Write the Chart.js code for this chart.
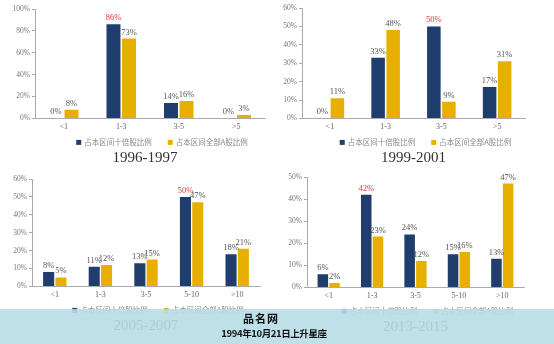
<!DOCTYPE html>
<html>
<head>
<meta charset="utf-8">
<script src="https://cdn.jsdelivr.net/npm/chart.js@4.4.0/dist/chart.umd.min.js"></script>
<style>
  html, body { margin: 0; padding: 0; background: #fff; }
  #wrap { position: relative; width: 554px; height: 344px; overflow: hidden; }
  .panel { position: absolute; }
  #band {
    position: absolute; left: 0; top: 309px; width: 554px; height: 35px;
    background: rgba(184, 219, 231, 0.9);
    font-family: "Noto Sans CJK SC", sans-serif; font-weight: bold; color: #111;
    text-align: center;
  }
  #band .l1 { position: absolute; left: 0; width: 522px; top: 1px; font-size: 11px; letter-spacing: 1px; }
  #band .l2 { position: absolute; left: 0; width: 548px; top: 17px; font-size: 9.5px; letter-spacing: -0.4px; }
</style>
</head>
<body>
<div id="wrap">
  <div class="panel" style="left:0;top:0;width:277px;height:167px"><canvas id="c1"></canvas></div>
  <div class="panel" style="left:277px;top:0;width:277px;height:167px"><canvas id="c2"></canvas></div>
  <div class="panel" style="left:0;top:168px;width:277px;height:167px"><canvas id="c3"></canvas></div>
  <div class="panel" style="left:277px;top:169px;width:277px;height:167px"><canvas id="c4"></canvas></div>
  <div id="band">
    <div class="l1">品名网</div>
    <div class="l2">1994年10月21日上升星座</div>
  </div>
</div>
<script>
// 市值区间（亿元）
const catsA = ['<1', '1-3', '3-5', '>5'];
const catsB = ['<1', '1-3', '3-5', '5-10', '>10'];
const seriesNames = ['占本区间十倍股比例', '占本区间全部A股比例'];

// 1996-1997
const tenBag9697 = [0, 86, 14, 0];
const allA9697 = [8, 73, 16, 3];
// 1999-2001
const tenBag9901 = [0, 33, 50, 17];
const allA9901 = [11, 48, 9, 31];
// 2005-2007
const tenBag0507 = [8, 11, 13, 50, 18];
const allA0507 = [5, 12, 15, 47, 21];
// 2013-2015
const tenBag1315 = [6, 42, 24, 15, 13];
const allA1315 = [2, 23, 12, 16, 47];

const NAVY = '#1f3e6d';
const GOLD = '#e7b000';
const SERIF = '"Liberation Serif", "DejaVu Serif", serif';

// 柱顶数值标签，十倍股最高值标红
const valueLabels = {
  id: 'valueLabels',
  afterDatasetsDraw(chart) {
    const ctx = chart.ctx;
    ctx.save();
    ctx.font = '8.5px ' + SERIF;
    ctx.textAlign = 'center';
    ctx.textBaseline = 'bottom';
    chart.data.datasets.forEach((ds, i) => {
      const meta = chart.getDatasetMeta(i);
      const peak = Math.max(...ds.data);
      meta.data.forEach((bar, j) => {
        const v = ds.data[j];
        ctx.fillStyle = (i === 0 && v === peak) ? '#e8303a' : '#555';
        ctx.fillText(v + '%', bar.x, bar.y - 2);
      });
    });
    ctx.restore();
  }
};

// 图例和年份标题画在坐标轴下方
const footer = {
  id: 'footer',
  afterDraw(chart, args, opts) {
    const { ctx, chartArea } = chart;
    const mid = (chartArea.left + chartArea.right) / 2;
    ctx.save();
    ctx.font = '7.5px "Noto Sans CJK SC", sans-serif';
    ctx.textBaseline = 'middle';
    ctx.textAlign = 'left';
    const items = chart.data.datasets.map(ds => ({
      text: ds.label,
      color: ds.backgroundColor,
      w: 8 + ctx.measureText(ds.label).width
    }));
    const gap = 16;
    const total = items.reduce((s, it) => s + it.w, 0) + gap * (items.length - 1);
    let x = mid + 12 - total / 2;
    const y = chartArea.bottom + 24;
    items.forEach(it => {
      ctx.fillStyle = it.color;
      ctx.fillRect(x, y - 2.5, 5, 5);
      ctx.fillStyle = '#888';
      ctx.fillText(it.text, x + 8, y);
      x += it.w + gap;
    });
    ctx.font = '15px ' + SERIF;
    ctx.fillStyle = '#333';
    ctx.textAlign = 'center';
    ctx.fillText(opts.title, mid + opts.shift, chartArea.bottom + 40);
    ctx.restore();
  }
};

function drawPanel(id, w, h, labels, tenBag, allA, yMax, pad, axisW, title, shift) {
  const canvas = document.getElementById(id);
  canvas.width = w;
  canvas.height = h;
  new Chart(canvas, {
    type: 'bar',
    data: {
      labels: labels,
      datasets: [
        { label: seriesNames[0], data: tenBag, backgroundColor: NAVY },
        { label: seriesNames[1], data: allA, backgroundColor: GOLD }
      ]
    },
    options: {
      responsive: false,
      animation: false,
      categoryPercentage: 0.54,
      barPercentage: 0.9,
      layout: { padding: pad },
      scales: {
        x: {
          grid: { display: false, drawTicks: false, tickLength: 0 },
          border: { color: '#aaa' },
          ticks: { color: '#666', padding: 4, font: { family: SERIF, size: 8 } }
        },
        y: {
          min: 0,
          max: yMax,
          afterFit(scale) { scale.width = axisW; },
          grid: { drawOnChartArea: false, tickLength: 3, color: '#aaa' },
          border: { color: '#aaa' },
          ticks: {
            stepSize: 10,
            color: '#777',
            padding: 2,
            font: { family: SERIF, size: 7.5 },
            callback: v => v + '%'
          }
        }
      },
      plugins: {
        tooltip: { enabled: false },
        legend: { display: false },
        footer: { title: title, shift: shift }
      }
    },
    plugins: [valueLabels, footer]
  });
}

drawPanel('c1', 277, 167, catsA, tenBag9697, allA9697, 100,
  { left: 0, right: 12, top: 9, bottom: 31 }, 35, '1996-1997', -5);
drawPanel('c2', 277, 167, catsA, tenBag9901, allA9901, 60,
  { left: 0, right: 29, top: 8, bottom: 31 }, 25, '1999-2001', 0);
drawPanel('c3', 277, 167, catsB, tenBag0507, allA0507, 60,
  { left: 0, right: 17, top: 11, bottom: 31 }, 32, '2005-2007', 0);
drawPanel('c4', 277, 167, catsB, tenBag1315, allA1315, 50,
  { left: 0, right: 30, top: 8, bottom: 31 }, 30, '2013-2015', 0);
</script>
</body>
</html>
